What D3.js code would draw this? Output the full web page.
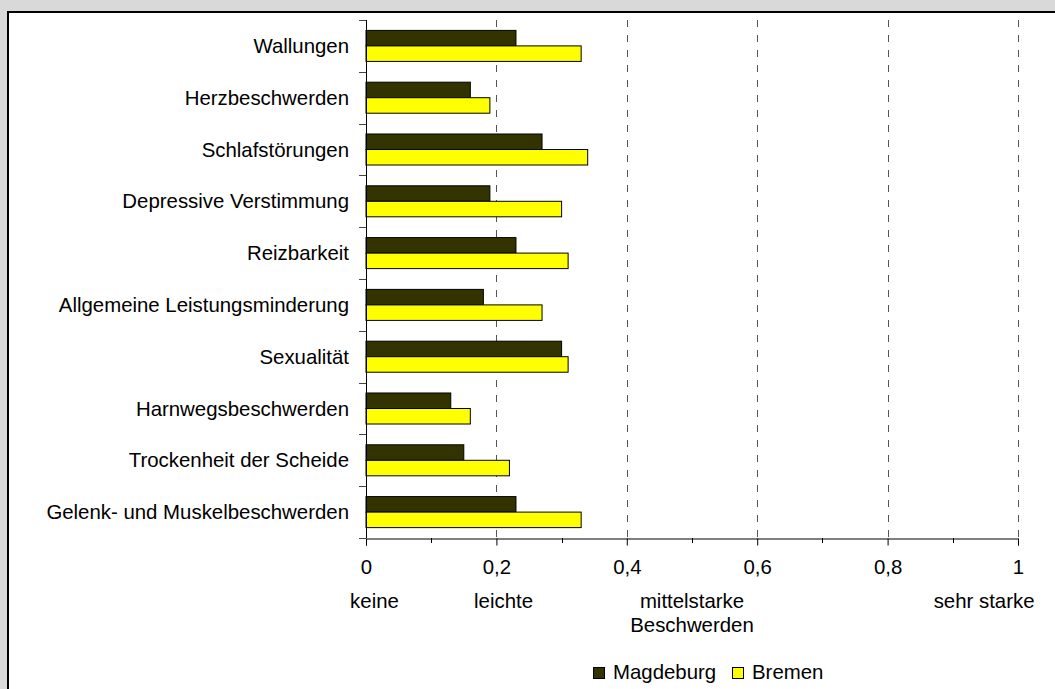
<!DOCTYPE html>
<html>
<head>
<meta charset="utf-8">
<script src="https://cdn.jsdelivr.net/npm/d3@7"></script>
<style>
html,body{margin:0;padding:0;background:#d9d9d9;}
svg{display:block;}
text{font-family:"Liberation Sans",Arial,sans-serif;fill:#000;}
</style>
</head>
<body>
<svg id="chart" width="1055" height="689"></svg>
<script>
const categories = ["Wallungen","Herzbeschwerden","Schlafstörungen","Depressive Verstimmung","Reizbarkeit","Allgemeine Leistungsminderung","Sexualität","Harnwegsbeschwerden","Trockenheit der Scheide","Gelenk- und Muskelbeschwerden"];
const seriesNames = ["Magdeburg","Bremen"];
const magdeburg = [0.23,0.16,0.27,0.19,0.23,0.18,0.30,0.13,0.15,0.23];
const bremen    = [0.33,0.19,0.34,0.30,0.31,0.27,0.31,0.16,0.22,0.33];
const seriesColors = ["#333300","#ffff00"];
const xTickValues = [0,0.2,0.4,0.6,0.8,1];
const xTickLabels = ["0","0,2","0,4","0,6","0,8","1"];
const scaleLabels = [
  {v:0.013, lines:["keine"]},
  {v:0.211, lines:["leichte"]},
  {v:0.500, lines:["mittelstarke","Beschwerden"]},
  {v:0.948, lines:["sehr starke"]}
];
const FS = 20.4;

const svg = d3.select("#chart");
// white panel
svg.append("rect").attr("x",8).attr("y",12).attr("width",1100).attr("height",700)
  .attr("fill","#fff").attr("stroke","#000").attr("stroke-width",2);

const x = d3.scaleLinear().domain([0,1]).range([366,1018]);
const y = d3.scaleBand().domain(categories).range([20,538]).paddingInner(0).paddingOuter(0);
const ys = d3.scaleBand().domain(seriesNames).range([0,y.bandwidth()]).paddingInner(0).paddingOuter(0.67);

// gridlines
svg.append("g").selectAll("line").data(xTickValues.filter(d=>d>0)).join("line")
  .attr("x1",d=>Math.round(x(d))+0.5).attr("x2",d=>Math.round(x(d))+0.5)
  .attr("y1",20).attr("y2",538)
  .attr("stroke","#555").attr("stroke-width",1).attr("stroke-dasharray","7,8");

// bars
const data = categories.map((c,i)=>({c, vals:[magdeburg[i],bremen[i]]}));
const g = svg.append("g");
data.forEach(d=>{
  seriesNames.forEach((s,j)=>{
    g.append("rect")
      .attr("x",x(0)).attr("y",y(d.c)+ys(s))
      .attr("width",x(d.vals[j])-x(0)).attr("height",ys.bandwidth())
      .attr("fill",seriesColors[j]).attr("stroke","#000").attr("stroke-width",1);
  });
});

// y axis
svg.append("line").attr("x1",366.5).attr("x2",366.5).attr("y1",20).attr("y2",538).attr("stroke","#000");
const yTicks = categories.map(c=>y(c)).concat([538]);
svg.append("g").selectAll("line").data(yTicks).join("line")
  .attr("x1",359).attr("x2",366).attr("y1",d=>Math.round(d)+0.5).attr("y2",d=>Math.round(d)+0.5)
  .attr("stroke","#444");
svg.append("g").selectAll("text").data(categories).join("text")
  .attr("x",349).attr("y",d=>y(d)+y.bandwidth()/2+7)
  .attr("text-anchor","end").attr("font-size",FS).text(d=>d);

// x axis
const xAxis = d3.axisBottom(x).tickValues(xTickValues).tickSize(7).tickFormat((d,i)=>xTickLabels[i]).tickPadding(14);
const ax = svg.append("g").attr("transform","translate(0,538.5)").call(xAxis);
ax.select(".domain").attr("stroke","#000");
ax.selectAll(".tick line").attr("stroke","#000");
ax.selectAll("text").attr("font-size",FS).attr("font-family","Liberation Sans, Arial, sans-serif").attr("fill","#000");
const minor = d3.range(1,10,2).map(k=>k/10);
svg.append("g").selectAll("line").data(minor).join("line")
  .attr("x1",d=>Math.round(x(d))+0.5).attr("x2",d=>Math.round(x(d))+0.5)
  .attr("y1",538).attr("y2",543).attr("stroke","#000");

// scale descriptors
scaleLabels.forEach(s=>{
  s.lines.forEach((t,k)=>{
    svg.append("text").attr("x",x(s.v)).attr("y",608+k*24)
      .attr("text-anchor","middle").attr("font-size",FS).text(t);
  });
});

// legend
const legX = [593,732];
seriesNames.forEach((s,j)=>{
  svg.append("rect").attr("x",legX[j]+0.5).attr("y",667.5).attr("width",11).attr("height",11)
    .attr("fill",seriesColors[j]).attr("stroke","#000");
  svg.append("text").attr("x",legX[j]+20).attr("y",679).attr("font-size",FS).text(s);
});
</script>
</body>
</html>
